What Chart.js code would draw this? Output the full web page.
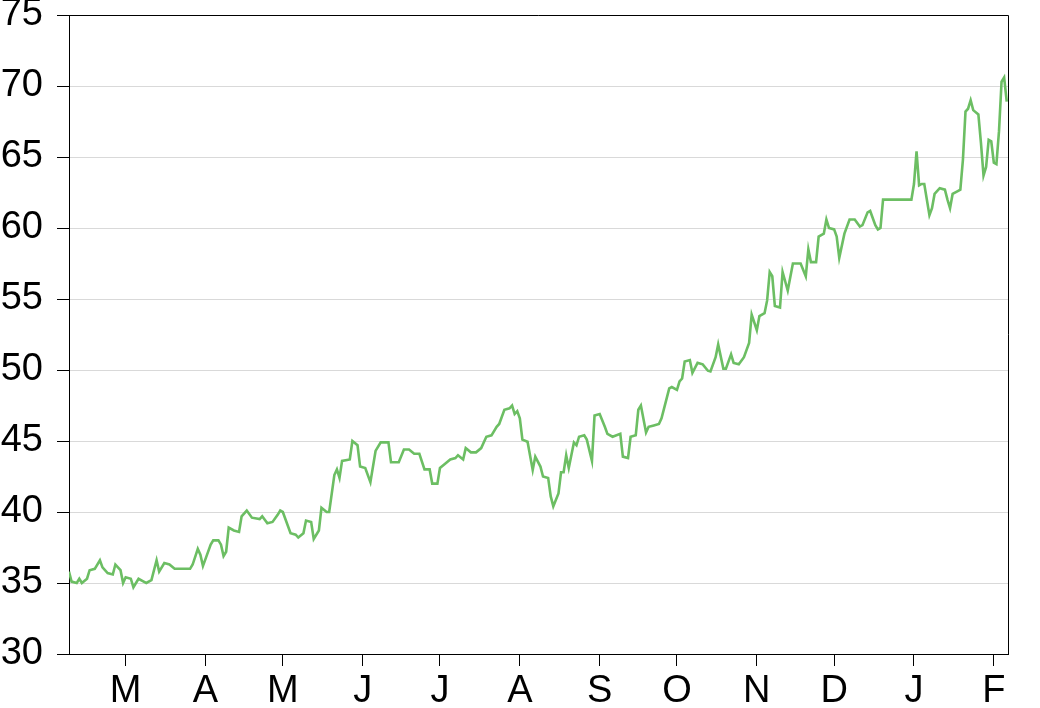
<!DOCTYPE html>
<html>
<head>
<meta charset="utf-8">
<script src="https://cdn.jsdelivr.net/npm/chart.js@4.4.1/dist/chart.umd.min.js"></script>
<style>
    body { margin: 0; background: #fff; }
    #wrap { width: 1040px; height: 708px; }
</style>
</head>
<body>
<div id="wrap"><canvas id="price-chart"></canvas></div>
<script>
// day offsets counted from 1 March, prices
const days = [
    -22, -21, -19, -18, -17, -15, -14, -12, -10, -9, -7, -5, -4, -2, -1, 0, 2, 3, 5, 7, 8, 10,
    12, 13, 15, 17, 19, 21, 25, 26, 28, 29, 30, 31, 33, 34, 36, 37, 38, 39, 40, 42, 44, 45, 47,
    49, 52, 53, 55, 57, 59, 60, 61, 64, 66, 67, 69, 70, 72, 73, 75, 76, 78, 79, 81, 82, 83, 84,
    87, 88, 90, 91, 93, 95, 97, 99, 102, 103, 106, 108, 110, 112, 114, 116, 118, 119, 121, 122,
    124, 126, 128, 129, 131, 132, 134, 136, 138, 140, 142, 144, 145, 147, 149, 150, 151, 152,
    153, 154, 156, 158, 159, 161, 162, 164, 165, 166, 168, 169, 170, 171, 172, 174, 175, 176,
    178, 179, 181, 182, 184, 186, 187, 189, 192, 193, 195, 196, 198, 199, 200, 202, 203, 205,
    207, 208, 209, 211, 212, 214, 215, 216, 217, 219, 220, 222, 224, 226, 227, 229, 230, 232,
    233, 235, 236, 238, 240, 242, 243, 245, 246, 248, 249, 250, 251, 252, 254, 255, 257, 259,
    262, 264, 265, 266, 268, 269, 271, 272, 273, 275, 276, 277, 279, 281, 283, 285, 286, 288,
    289, 291, 292, 293, 294, 305, 306, 307, 308, 309, 310, 312, 313, 314, 316, 318, 319, 320,
    321, 323, 324, 325, 326, 327, 328, 329, 331, 332, 333, 334, 335, 336, 337, 338, 339, 340,
    341, 342
];
const prices = [
    35.8, 35.1, 35.0, 35.3, 35.0, 35.3, 35.9, 36.0, 36.6, 36.1, 35.7, 35.6, 36.3, 35.9, 35.0, 35.4, 35.3, 34.7, 35.3, 35.1, 35.0, 35.2,
    36.6, 35.8, 36.4, 36.3, 36.0, 36.0, 36.0, 36.3, 37.4, 37.0, 36.2, 36.7, 37.7, 38.0, 38.0, 37.7, 36.9, 37.2, 38.9, 38.7, 38.6, 39.7, 40.1,
    39.6, 39.5, 39.7, 39.2, 39.3, 39.8, 40.1, 40.0, 38.5, 38.4, 38.2, 38.5, 39.4, 39.3, 38.1, 38.7, 40.3, 40.0, 40.0, 42.6, 43.0, 42.4, 43.6,
    43.7, 45.0, 44.7, 43.2, 43.1, 42.1, 44.3, 44.9, 44.9, 43.5, 43.5, 44.4, 44.4, 44.1, 44.1, 43.0, 43.0, 42.0, 42.0, 43.1,
    43.4, 43.7, 43.8, 44.0, 43.7, 44.5, 44.2, 44.2, 44.5, 45.3, 45.4, 46.0, 46.2, 47.2, 47.3, 47.5, 46.9, 47.1,
    46.6, 45.1, 44.95, 42.96, 43.9, 43.2, 42.5, 42.4, 41.1, 40.4, 41.3, 42.8, 42.8, 44.0, 43.1, 44.9, 44.7, 45.3,
    45.4, 45.1, 43.6, 46.8, 46.9, 46.0, 45.5, 45.3, 45.5, 43.9, 43.8, 45.3, 45.4, 47.2, 47.5, 45.6, 46.0, 46.1,
    46.2, 46.6, 47.3, 48.7, 48.8, 48.6, 49.2, 49.4, 50.6, 50.7, 49.8, 50.5, 50.4, 49.95, 49.9, 50.9, 51.8, 50.1,
    50.1, 51.1, 50.5, 50.4, 50.9, 51.9, 53.9, 52.8, 53.8, 54.0, 54.9, 56.9, 56.6, 54.5, 54.4, 56.9, 55.6, 57.5,
    57.5, 56.6, 58.5, 57.6, 57.6, 59.4, 59.6, 60.6, 60.0, 59.9, 59.4, 57.9, 59.6, 60.6, 60.6, 60.1, 60.2, 61.1,
    61.2, 60.2, 59.9, 60.0, 62.0, 62.0, 63.1, 65.4, 63.0, 63.1, 63.1, 60.9, 61.4, 62.4, 62.8, 62.7, 62.0, 61.4,
    62.4, 62.6, 62.7, 64.8, 68.2, 68.4, 69.0, 68.3, 68.0, 66.0, 63.7, 64.3, 66.2, 66.1, 64.6, 64.5, 66.8, 70.3,
    70.6, 68.9
];
const monthTicks = [0, 31, 61, 92, 122, 153, 184, 214, 245, 275, 306, 337];
const monthLabels = ['M', 'A', 'M', 'J', 'J', 'A', 'S', 'O', 'N', 'D', 'J', 'F'];

const points = days.map((d, i) => ({x: d, y: prices[i]}));

// top and right edges of the plot box
const boxPlugin = {
    id: 'box',
    afterDraw(chart) {
        const {ctx, chartArea} = chart;
        ctx.save();
        ctx.strokeStyle = '#000';
        ctx.lineWidth = 1;
        ctx.beginPath();
        ctx.moveTo(chartArea.left, Math.round(chartArea.top) + 0.5);
        ctx.lineTo(Math.round(chartArea.right) + 0.5, Math.round(chartArea.top) + 0.5);
        ctx.lineTo(Math.round(chartArea.right) + 0.5, chartArea.bottom);
        ctx.stroke();
        ctx.restore();
    }
};

const labelFont = {family: "'Liberation Sans', Arial, sans-serif", size: 38};

new Chart(document.getElementById('price-chart'), {
    type: 'line',
    data: {
        datasets: [{
            data: points,
            borderColor: '#6cbe63',
            borderWidth: 2.6,
            pointRadius: 0,
            tension: 0,
            fill: false
        }]
    },
    options: {
        responsive: true,
        maintainAspectRatio: false,
        animation: false,
        layout: {padding: {top: 15, right: 32, left: 0, bottom: 0}},
        plugins: {legend: {display: false}, tooltip: {enabled: false}},
        scales: {
            x: {
                type: 'linear',
                min: -22,
                max: 342.5,
                afterBuildTicks(scale) {
                    scale.ticks = monthTicks.map(v => ({value: v}));
                },
                afterFit(scale) {
                    scale.height = 54;
                    scale.paddingLeft = 0;
                    scale.paddingRight = 0;
                },
                ticks: {
                    autoSkip: false,
                    maxRotation: 0,
                    padding: 3,
                    color: '#000',
                    font: labelFont,
                    callback: (value, index) => monthLabels[index]
                },
                grid: {drawOnChartArea: false, tickLength: 12, tickColor: '#000'},
                border: {color: '#000', width: 1}
            },
            y: {
                min: 30,
                max: 75,
                afterFit(scale) {
                    scale.width = 69;
                    scale.paddingTop = 0;
                    scale.paddingBottom = 0;
                },
                ticks: {stepSize: 5, padding: 14, color: '#000', font: labelFont},
                grid: {color: '#d9d9d9', tickLength: 12, tickColor: '#000'},
                border: {color: '#000', width: 1}
            }
        }
    },
    plugins: [boxPlugin]
});
</script>
</body>
</html>
